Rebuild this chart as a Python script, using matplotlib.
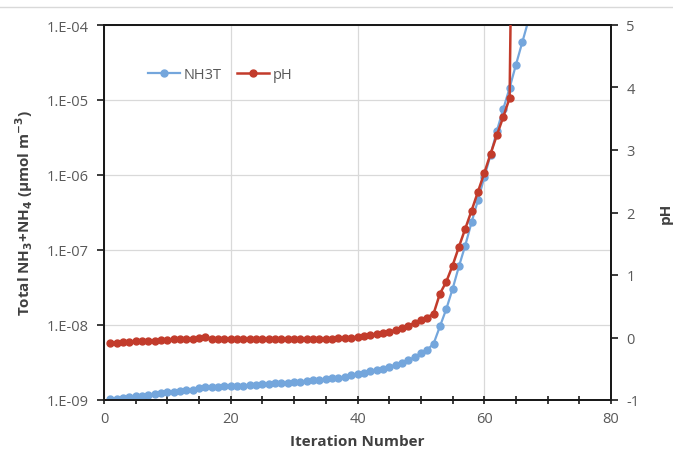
import matplotlib
matplotlib.use("Agg")
import matplotlib.pyplot as plt
from matplotlib.ticker import FixedLocator, MultipleLocator
from matplotlib.lines import Line2D

plt.rcParams['font.family'] = ['Open Sans', 'DejaVu Sans']
plt.rcParams['axes.unicode_minus'] = False

# ---- data ----
nh3t_iter = list(range(1, 68))
nh3t = [1.023e-9, 1.047e-9, 1.072e-9, 1.096e-9, 1.122e-9, 1.148e-9, 1.175e-9, 1.202e-9,
        1.230e-9, 1.259e-9, 1.288e-9, 1.318e-9, 1.349e-9, 1.380e-9, 1.445e-9, 1.479e-9,
        1.479e-9, 1.479e-9, 1.514e-9, 1.514e-9, 1.549e-9, 1.549e-9, 1.585e-9, 1.585e-9,
        1.622e-9, 1.622e-9, 1.660e-9, 1.660e-9, 1.698e-9, 1.738e-9, 1.738e-9, 1.778e-9,
        1.820e-9, 1.862e-9, 1.905e-9, 1.950e-9, 1.995e-9, 2.042e-9, 2.138e-9, 2.188e-9,
        2.291e-9, 2.399e-9, 2.512e-9, 2.630e-9, 2.754e-9, 2.951e-9, 3.162e-9, 3.388e-9,
        3.715e-9, 4.169e-9, 4.677e-9, 5.623e-9, 9.550e-9, 1.622e-8, 3.020e-8, 6.026e-8,
        1.148e-7, 2.344e-7, 4.571e-7, 9.333e-7, 1.862e-6, 3.890e-6, 7.586e-6, 1.445e-5,
        2.951e-5, 5.888e-5, 1.175e-4]

ph_iter = list(range(1, 66))
ph = [-0.09, -0.08, -0.07, -0.07, -0.06, -0.06, -0.05, -0.05, -0.04, -0.04,
      -0.03, -0.03, -0.02, -0.02, -0.01, 0.01, -0.02, -0.02, -0.02, -0.02,
      -0.02, -0.02, -0.03, -0.03, -0.03, -0.03, -0.03, -0.03, -0.03, -0.03,
      -0.03, -0.03, -0.03, -0.02, -0.02, -0.02, -0.01, -0.01, 0.00, 0.01,
      0.02, 0.04, 0.05, 0.07, 0.09, 0.12, 0.15, 0.19, 0.23, 0.28,
      0.32, 0.38, 0.70, 0.89, 1.15, 1.45, 1.74, 2.03, 2.33, 2.63,
      2.94, 3.24, 3.53, 3.83, 12.0]

series_names = ["NH3T", "pH"]
x_ticks = [0, 20, 40, 60, 80]
y_ticks = [1e-9, 1e-8, 1e-7, 1e-6, 1e-5, 1e-4]
y_ticklabels = ["1.E-09", "1.E-08", "1.E-07", "1.E-06", "1.E-05", "1.E-04"]
ph_ticks = [-1, 0, 1, 2, 3, 4, 5]

blue = '#74a6dc'
red = '#c23b2b'
grey_txt = '#595959'
label_col = '#404040'
fs_tick = 10.5

fig = plt.figure(figsize=(6.73, 4.60), dpi=100)
ax = fig.add_axes([104/673, 1-401/460, 507/673, 375/460])
ax2 = ax.twinx()

l1, = ax.plot(nh3t_iter, nh3t, color=blue, lw=1.6, marker='o', ms=5,
              label=series_names[0], zorder=3)
l2, = ax2.plot(ph_iter, ph, color=red, lw=1.8, marker='o', ms=5,
               label=series_names[1], zorder=3)

ax.set_yscale('log')
ax.set_xlim(0, 80)
ax.set_ylim(1e-9, 1e-4)
ax2.set_ylim(-1, 5)

ax.xaxis.set_major_locator(FixedLocator(x_ticks))
ax.xaxis.set_minor_locator(MultipleLocator(5))
ax.yaxis.set_major_locator(FixedLocator(y_ticks))
ax.yaxis.set_minor_locator(FixedLocator([]))
ax.set_yticklabels(y_ticklabels)
ax2.yaxis.set_major_locator(FixedLocator(ph_ticks))

ax.grid(True, which='major', color='#d9d9d9', lw=0.9)
ax.set_axisbelow(True)

for a in (ax, ax2):
    for s in a.spines.values():
        s.set_color('#1a1a1a')
        s.set_linewidth(1.4)

ax.tick_params(axis='x', which='major', direction='inout', length=6, width=1.2,
               colors='#1a1a1a', labelcolor=grey_txt, labelsize=fs_tick, pad=5)
ax.tick_params(axis='x', which='minor', direction='inout', length=6, width=1.2,
               colors='#1a1a1a')
ax.tick_params(axis='y', which='major', direction='out', length=5, width=1.2,
               colors='#1a1a1a', labelcolor=grey_txt, labelsize=fs_tick, pad=6)
ax2.tick_params(axis='y', which='major', direction='out', length=5, width=1.2,
                colors='#1a1a1a', labelcolor=grey_txt, labelsize=fs_tick, pad=6)

ax.set_xlabel("Iteration Number", fontsize=11, fontweight='bold', color=label_col, labelpad=6)
ax.set_ylabel("Total NH$_\\mathbf{3}$+NH$_\\mathbf{4}$ (µmol m$^\\mathbf{-3}$)",
              fontsize=11, fontweight='bold', color=label_col, labelpad=8)
ax2.set_ylabel("pH", fontsize=11, fontweight='bold', color=label_col, labelpad=14)

leg = ax.legend(handles=[l1, l2], loc='center left', bbox_to_anchor=(0.06, 0.867),
                ncol=2, frameon=False, fontsize=10.5, handlelength=2.2,
                columnspacing=1.0, handletextpad=0.3, labelcolor=grey_txt)

fig.add_artist(Line2D([0, 1], [1-8/460, 1-8/460], color='#d9d9d9', lw=1.0,
                      transform=fig.transFigure))

fig.savefig("out.png", dpi=100)
